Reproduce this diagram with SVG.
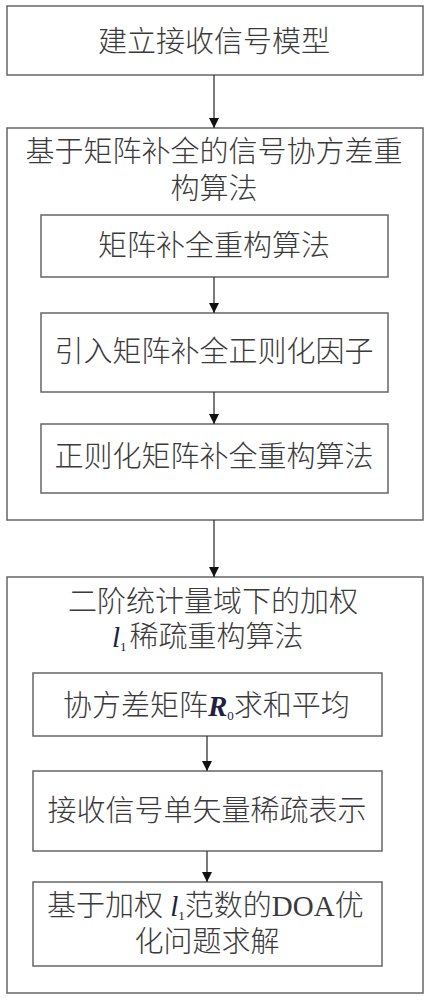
<svg xmlns="http://www.w3.org/2000/svg" width="428" height="1000" viewBox="0 0 428 1000">
<style>
.box{fill:#fff;stroke:#666;stroke-width:1.5}
.t{font-family:"Liberation Serif","Noto Sans CJK SC",serif;font-size:29px;font-weight:300;fill:#3a3a3a}
.c{text-anchor:middle}
.e{fill:#1a2240}
.line{stroke:#333;stroke-width:1.3;fill:none}
</style>
<defs>
<marker id="ah" viewBox="0 0 10 10" refX="10" refY="5" markerWidth="10" markerHeight="10" markerUnits="userSpaceOnUse" orient="auto">
<path d="M0,0 L10,5 L0,10 Z" fill="#111"/>
</marker>
</defs>
<rect width="428" height="1000" fill="#fff"/>
<g id="n1">
<rect class="box" x="7" y="6" width="416" height="69"/>
<text class="t c" x="214" y="52">建立接收信号模型</text>
</g>
<g id="g1">
<rect class="box" x="7" y="128" width="416" height="392"/>
<text class="t c" x="214" y="162">基于矩阵补全的信号协方差重</text>
<text class="t c" x="214" y="199">构算法</text>
</g>
<g id="n2">
<rect class="box" x="41" y="215" width="347" height="62"/>
<text class="t c" x="214" y="256">矩阵补全重构算法</text>
</g>
<g id="n3">
<rect class="box" x="41" y="313" width="347" height="79"/>
<text class="t c" x="214" y="362">引入矩阵补全正则化因子</text>
</g>
<g id="n4">
<rect class="box" x="41" y="424" width="347" height="69"/>
<text class="t c" x="214" y="467">正则化矩阵补全重构算法</text>
</g>
<g id="g2">
<rect class="box" x="7" y="577" width="416" height="416"/>
<text class="t c" x="213" y="612">二阶统计量域下的加权</text>
<text class="t" x="112" y="647"><tspan class="e" font-style="italic">l</tspan><tspan class="e" font-size="13" dy="4">1</tspan><tspan dy="-4" dx="3">稀疏重构算法</tspan></text>
</g>
<g id="n5">
<rect class="box" x="33" y="673" width="349" height="63"/>
<text class="t" x="63" y="716">协方差矩阵<tspan class="e" font-style="italic" font-weight="bold">R</tspan><tspan class="e" font-size="13" dy="4">0</tspan><tspan dy="-4">求和平均</tspan></text>
</g>
<g id="n6">
<rect class="box" x="33" y="771" width="349" height="80"/>
<text class="t c" x="207" y="821">接收信号单矢量稀疏表示</text>
</g>
<g id="n7">
<rect class="box" x="33" y="882" width="349" height="84"/>
<text class="t" x="47" y="916">基于加权 <tspan class="e" font-style="italic">l</tspan><tspan class="e" font-size="13" dy="4">1</tspan><tspan dy="-4">范数的DOA优</tspan></text>
<text class="t c" x="207" y="952">化问题求解</text>
</g>
<g id="connectors">
<line class="line" x1="214" y1="75" x2="214" y2="128" marker-end="url(#ah)"/>
<line class="line" x1="214" y1="277" x2="214" y2="313" marker-end="url(#ah)"/>
<line class="line" x1="214" y1="392" x2="214" y2="424" marker-end="url(#ah)"/>
<line class="line" x1="214" y1="520" x2="214" y2="577" marker-end="url(#ah)"/>
<line class="line" x1="207" y1="736" x2="207" y2="771" marker-end="url(#ah)"/>
<line class="line" x1="207" y1="851" x2="207" y2="882" marker-end="url(#ah)"/>
</g>
</svg>
